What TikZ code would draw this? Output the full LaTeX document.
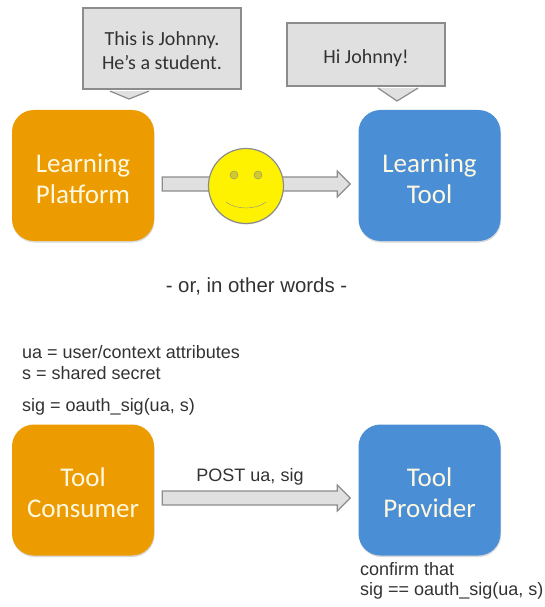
\documentclass[tikz,border=0pt]{standalone}
\usepackage{fontspec}
\usepackage{xcolor}
\usepackage{tikz}
\usetikzlibrary{calc,shadows}
\setmainfont{Carlito}
\newfontfamily\notefont{Liberation Sans}
\definecolor{niceorange}{RGB}{236, 156, 0}
\definecolor{niceblue}{RGB}{74, 143, 214}
\definecolor{nicegrey}{RGB}{224, 224, 224}
\definecolor{edgegrey}{RGB}{140, 140, 140}
\definecolor{noteblack}{RGB}{50, 50, 50}
\definecolor{boxtext}{RGB}{255, 248, 225}
\tikzset{
	bigbox/.style = {rectangle, rounded corners = 22, minimum width = 142, minimum height = 131, align = center, text = boxtext, text height = 55pt, text depth = 0pt, font = \fontsize{27}{31}\selectfont, drop shadow = {shadow xshift = 0.5pt, shadow yshift = -1.5pt, opacity = 0.3}},
	bubble/.style = {rectangle, fill = nicegrey, draw = edgegrey, line width = 1.2, align = center, text = noteblack, text depth = 0pt, font = \fontsize{20}{24}\selectfont},
	bubbletip/.style = {fill = nicegrey, draw = edgegrey, line width = 1.2},
	note/.style = {text = noteblack, anchor = west, inner sep = 0, font = \notefont\fontsize{18}{20}\selectfont},
	blockarrow/.style = {fill = nicegrey, draw = edgegrey, line width = 1.2, line join = miter, to path = {
		($(\tikztostart)+(0,7)$) -- ($(\tikztotarget)+(-13,7)$) -- ($(\tikztotarget)+(-13,13)$) -- (\tikztotarget) -- ($(\tikztotarget)+(-13,-13)$) -- ($(\tikztotarget)+(-13,-7)$) -- ($(\tikztostart)+(0,-7)$) -- cycle}}
}
\begin{document}
\begin{tikzpicture}[x = 1pt, y = -1pt]
	\useasboundingbox (0,0) rectangle (544,607);
	% upper half
	\node (platform) at (83,175.5) [bigbox, fill = niceorange] {Learning\\Platform};
	\node (tool) at (429.5,175.5) [bigbox, fill = niceblue] {Learning\\Tool};
	\node (hello) at (162,48.5) [bubble, minimum width = 158, minimum height = 81, text height = 43pt] {This is Johnny.\\He’s a student.};
	\node (hi) at (366,54.5) [bubble, minimum width = 158, minimum height = 63, text height = 19pt] {Hi Johnny!};
	\coordinate (hellotip) at (129,99);
	\coordinate (hitip) at (397,101);
	\draw[bubbletip] ([shift = {(-52,1.5)}]hello.south) -- (hellotip) -- ([shift = {(-13,1.5)}]hello.south);
	\draw[bubbletip] ([shift = {(12,1.5)}]hi.south) -- (hitip) -- ([shift = {(52,1.5)}]hi.south);
	\draw[blockarrow] ([xshift = 8, yshift = -8.5]platform.east) to ([xshift = -8, yshift = -8.5]tool.west);
	\node (face) at (246,186) [circle, minimum size = 75, inner sep = 0, fill = yellow, draw = edgegrey, line width = 1.2, drop shadow = {shadow xshift = 0pt, shadow yshift = -1pt, opacity = 0.25}] {};
	\node (lefteye) at (234,175) [circle, minimum size = 8, inner sep = 0, fill = yellow!80!black, draw = edgegrey] {};
	\node (righteye) at (258,175) [circle, minimum size = 8, inner sep = 0, fill = yellow!80!black, draw = edgegrey] {};
	\coordinate (smilea) at (226,202);
	\coordinate (smileb) at (266,202);
	\draw[edgegrey] (smilea) .. controls (236,210) and (256,210) .. (smileb);
	\node (words) at (256.5,286) [note, anchor = center, font = \notefont\fontsize{20.4}{22}\selectfont] {- or, in other words -};
	% lower half
	\node (consumer) at (83,490) [bigbox, fill = niceorange] {Tool\\Consumer};
	\node (provider) at (429.5,490) [bigbox, fill = niceblue] {Tool\\Provider};
	\draw[blockarrow] ([xshift = 8, yshift = -8]consumer.east) to ([xshift = -8, yshift = -8]provider.west);
	\node (post) at (250,477) [note, anchor = center] {POST ua, sig};
	\node (ua) at (22,352) [note] {ua = user/context attributes};
	\node (secret) at (22,373) [note] {s = shared secret};
	\node (sig) at (22,407) [note] {sig = oauth\_sig(ua, s)};
	\node (confirm) at (360,569) [note] {confirm that};
	\node (check) at (360,591) [note] {sig == oauth\_sig(ua, s)};
\end{tikzpicture}
\end{document}
